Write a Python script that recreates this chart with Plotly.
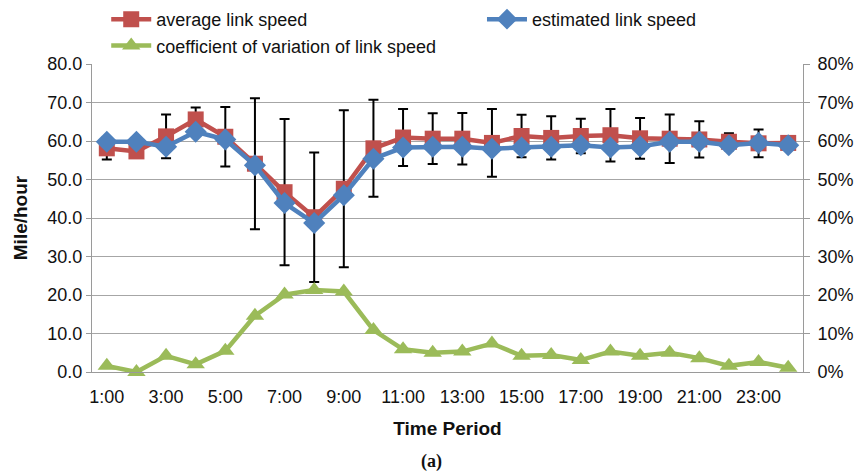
import plotly.graph_objects as go

hours = ["1:00", "2:00", "3:00", "4:00", "5:00", "6:00", "7:00", "8:00",
         "9:00", "10:00", "11:00", "12:00", "13:00", "14:00", "15:00", "16:00",
         "17:00", "18:00", "19:00", "20:00", "21:00", "22:00", "23:00", "24:00"]
tick_labels = ["1:00", "3:00", "5:00", "7:00", "9:00", "11:00",
               "13:00", "15:00", "17:00", "19:00", "21:00", "23:00"]

avg_speed = [58.1, 57.3, 61.2, 65.6, 61.1, 54.1, 46.7, 40.2, 47.6, 58.1, 60.9, 60.6,
             60.6, 59.5, 61.3, 60.8, 61.3, 61.5, 60.7, 60.6, 60.4, 59.8, 59.4, 59.5]
avg_err = [2.9, 1.5, 5.7, 3.1, 7.7, 17.0, 19.0, 16.8, 20.4, 12.6, 7.4, 6.6,
           6.7, 8.8, 5.5, 5.6, 4.5, 6.8, 5.3, 6.3, 4.7, 2.2, 3.6, 1.5]
est_speed = [59.8, 59.8, 58.5, 62.4, 60.4, 53.7, 43.9, 38.7, 45.9, 55.4, 58.3, 58.5,
             58.5, 58.0, 58.3, 58.5, 58.9, 58.3, 58.6, 59.8, 59.8, 58.9, 59.5, 58.9]
cov_pct = [1.6, 0.0, 4.2, 2.0, 5.5, 14.6, 20.1, 21.3, 20.9, 10.9, 5.9, 5.0,
           5.3, 7.4, 4.2, 4.4, 3.1, 5.3, 4.2, 5.0, 3.6, 1.6, 2.6, 1.1]

RED = "#C0504D"
BLUE = "#4F81BD"
GREEN = "#9BBB59"
GRID = "#A6A6A6"
AXIS = "#9A9A9A"
FONT = "Liberation Sans, Arial, Helvetica, sans-serif"

fig = go.Figure()
fig.add_trace(go.Scatter(
    x=hours, y=avg_speed, name="average link speed", mode="lines+markers",
    line=dict(color=RED, width=4.5),
    marker=dict(symbol="square", size=16, color=RED),
    error_y=dict(type="data", array=avg_err, visible=True, color="black",
                 thickness=2, width=5),
    cliponaxis=False, legend="legend",
))
fig.add_trace(go.Scatter(
    x=hours, y=est_speed, name="estimated link speed", mode="lines+markers",
    line=dict(color=BLUE, width=4.5),
    marker=dict(symbol="diamond", size=17, color=BLUE),
    cliponaxis=False, legend="legend2",
))
fig.add_trace(go.Scatter(
    x=hours, y=cov_pct, name="coefficient of variation of link speed",
    mode="lines+markers", yaxis="y2",
    line=dict(color=GREEN, width=4.5),
    marker=dict(symbol="triangle-up", size=16, color=GREEN),
    cliponaxis=False, legend="legend",
))

legend_common = dict(
    orientation="v", xanchor="left", yanchor="top",
    font=dict(family=FONT, size=18, color="#111111"),
    bgcolor="rgba(0,0,0,0)", tracegroupgap=0, itemwidth=40,
)

fig.update_layout(
    width=862, height=474,
    margin=dict(l=92, r=59, t=64, b=102, autoexpand=False),
    paper_bgcolor="white", plot_bgcolor="white",
    font=dict(family=FONT, size=18, color="#111111"),
    showlegend=True,
    legend=dict(x=0.02, y=1.2045, **legend_common),
    legend2=dict(x=0.5485, y=1.2045, **legend_common),
    xaxis=dict(
        type="category", categoryorder="array", categoryarray=hours,
        range=[-0.5, 23.5],
        tickmode="array", tickvals=tick_labels, ticktext=tick_labels,
        showgrid=False, showline=True, linecolor=AXIS, linewidth=1,
        ticks="", tickfont=dict(size=18), ticklabelstandoff=8,
        title=dict(text="<b>Time Period</b>", font=dict(size=19), standoff=16),
        zeroline=False,
    ),
    yaxis=dict(
        range=[0, 80], dtick=10, tickformat=".1f",
        showgrid=True, gridcolor=GRID, gridwidth=1,
        showline=True, linecolor=AXIS, linewidth=1,
        ticks="outside", ticklen=5, tickcolor=AXIS,
        tickfont=dict(size=18),
        title=dict(text="<b>Mile/hour</b>", font=dict(size=19), standoff=14),
        zeroline=False,
    ),
    yaxis2=dict(
        overlaying="y", side="right", range=[0, 80], dtick=10, ticksuffix="%",
        showgrid=False, showline=True, linecolor=AXIS, linewidth=1,
        ticks="outside", ticklen=6, tickcolor=AXIS, ticklabelstandoff=4,
        tickfont=dict(size=18), zeroline=False,
    ),
    annotations=[dict(
        text="<b>(a)</b>", xref="paper", yref="paper", x=0.477, y=-0.292,
        xanchor="center", yanchor="middle", showarrow=False,
        font=dict(family="Liberation Serif, Times New Roman, serif", size=18,
                  color="#111111"),
    )],
)

fig.write_html("out.html")
